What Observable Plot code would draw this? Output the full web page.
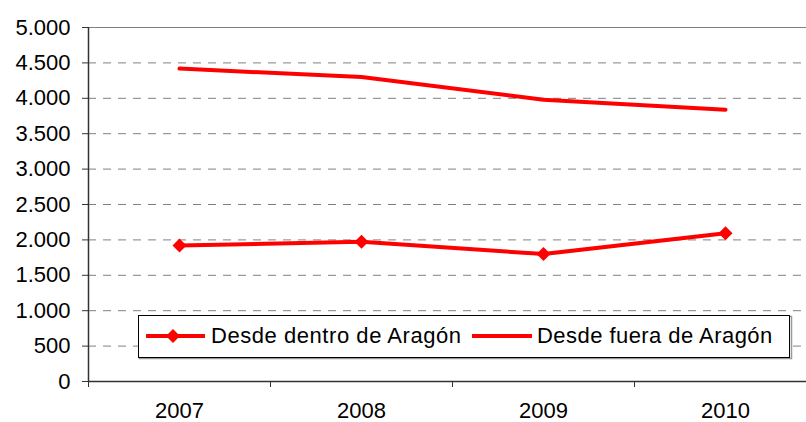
<!DOCTYPE html>
<html>
<head>
<meta charset="utf-8">
<script src="https://cdn.jsdelivr.net/npm/d3@7"></script>
<script src="https://cdn.jsdelivr.net/npm/@observablehq/plot@0.6"></script>
<style>
  html, body { margin: 0; padding: 0; background: #fff; }
  #chart { position: relative; width: 806px; height: 422px; overflow: hidden; }
</style>
</head>
<body>
<div id="chart"></div>
<script>
const years = [2007, 2008, 2009, 2010];
const dentro = [1920, 1975, 1800, 2095];
const fuera = [4420, 4300, 3980, 3840];
const yTicks = [0, 500, 1000, 1500, 2000, 2500, 3000, 3500, 4000, 4500, 5000];
const gridVals = [500, 1000, 1500, 2000, 2500, 3000, 3500, 4000, 4500];
const xBounds = [2006.5, 2007.5, 2008.5, 2009.5];
const seriesNames = ["Desde dentro de Aragón", "Desde fuera de Aragón"];

const dataDentro = years.map((y, i) => ({year: y, value: dentro[i]}));
const dataFuera = years.map((y, i) => ({year: y, value: fuera[i]}));

const fmt = d3.formatLocale({decimal: ",", thousands: ".", grouping: [3], currency: ["", ""]}).format(",");
const font = "'Liberation Sans', Arial, sans-serif";

const plot = Plot.plot({
  width: 806,
  height: 422,
  marginLeft: 88,
  marginRight: 0,
  marginTop: 27,
  marginBottom: 41,
  style: {fontFamily: font, fontSize: "22px", color: "#000", background: "#fff"},
  x: {type: "linear", domain: [2006.5, 2010.5], range: [88, 816], label: null},
  y: {domain: [0, 5000], range: [381, 27], label: null},
  marks: [
    Plot.ruleY(gridVals, {stroke: "#808080", strokeWidth: 1, strokeDasharray: "8,7"}),
    Plot.ruleY([5000], {stroke: "#808080", strokeWidth: 1}),
    Plot.axisY({ticks: yTicks, tickFormat: fmt, tickSize: 6, tickPadding: 12, fontSize: 22, stroke: "#333", fill: "#000", label: null}),
    Plot.axisX({ticks: xBounds, tickFormat: () => "", tickSize: 6, stroke: "#333", label: null}),
    Plot.axisX({ticks: years, tickFormat: d => String(d), tickSize: 0, tickPadding: 21, fontSize: 22, fill: "#000", label: null}),
    Plot.ruleX([2006.5], {y1: 0, y2: 5000, stroke: "#333", strokeWidth: 1.5}),
    Plot.ruleY([0], {stroke: "#333", strokeWidth: 1.5}),
    Plot.line(dataFuera, {x: "year", y: "value", stroke: "#ff0000", strokeWidth: 4}),
    Plot.line(dataDentro, {x: "year", y: "value", stroke: "#ff0000", strokeWidth: 4}),
    Plot.dot(dataDentro, {x: "year", y: "value", symbol: "diamond2", r: 6.3, fill: "#ff0000", stroke: "none"})
  ]
});

document.getElementById("chart").appendChild(plot);

// Legend inside the plot area
const svg = d3.select(plot);
const lg = svg.append("g").attr("font-family", font).attr("font-size", 22).attr("text-anchor", "start");
lg.append("rect").attr("x", 139.5).attr("y", 316.5).attr("width", 652).attr("height", 42)
  .attr("fill", "none").attr("stroke", "#999").attr("stroke-width", 1.5);
lg.append("rect").attr("x", 138.5).attr("y", 315.5).attr("width", 651).attr("height", 42)
  .attr("fill", "#fff").attr("stroke", "#000").attr("stroke-width", 1);
lg.append("line").attr("x1", 146).attr("x2", 205).attr("y1", 336).attr("y2", 336)
  .attr("stroke", "#ff0000").attr("stroke-width", 4);
lg.append("path").attr("d", d3.symbol(d3.symbolDiamond2, Math.PI * 6.3 * 6.3)())
  .attr("transform", "translate(173,336)").attr("fill", "#ff0000");
lg.append("text").attr("x", 211).attr("y", 343).attr("fill", "#000").attr("text-anchor", "start")
  .attr("letter-spacing", "0.55px").text(seriesNames[0]);
lg.append("line").attr("x1", 472).attr("x2", 532).attr("y1", 336).attr("y2", 336)
  .attr("stroke", "#ff0000").attr("stroke-width", 4);
lg.append("text").attr("x", 537).attr("y", 343).attr("fill", "#000").attr("text-anchor", "start")
  .attr("letter-spacing", "0.45px").text(seriesNames[1]);
</script>
</body>
</html>
